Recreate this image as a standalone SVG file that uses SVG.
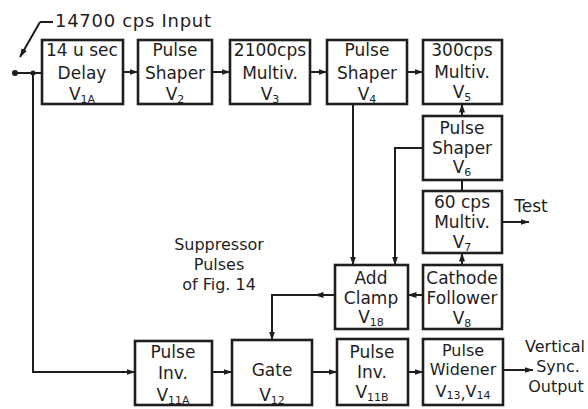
<svg xmlns="http://www.w3.org/2000/svg" width="588" height="409" viewBox="0 0 588 409">
<style>
.box{fill:none;stroke:#1e1e1e;stroke-width:2.6}
.ln{fill:none;stroke:#1e1e1e;stroke-width:2}
text{font-family:"DejaVu Sans","Liberation Sans",sans-serif;font-size:17px;fill:#1e1e1e;text-anchor:middle}
.sm{font-size:16px}
.s{font-size:11px}
</style>
<defs>
<marker id="a" markerWidth="9" markerHeight="7" refX="8.5" refY="3.5" orient="auto" markerUnits="userSpaceOnUse"><path d="M0,0.5 L9,3.5 L0,6.5 z" fill="#1e1e1e"/></marker>
</defs>
<rect width="588" height="409" fill="#ffffff"/>

<g id="connectors">
<line class="ln" x1="53" y1="22" x2="40" y2="22"/>
<line class="ln" x1="40" y1="22" x2="20" y2="57" marker-end="url(#a)"/>
<circle cx="15" cy="73" r="3" fill="#1e1e1e"/>
<circle cx="33" cy="73" r="2.5" fill="#1e1e1e"/>
<line class="ln" x1="15" y1="73" x2="42" y2="73"/>
<path class="ln" d="M33,73 V372 H135" marker-end="url(#a)"/>
<line class="ln" x1="123" y1="72" x2="138" y2="72" marker-end="url(#a)"/>
<line class="ln" x1="212" y1="72" x2="230" y2="72" marker-end="url(#a)"/>
<line class="ln" x1="310" y1="72" x2="327" y2="72" marker-end="url(#a)"/>
<line class="ln" x1="407" y1="72" x2="423" y2="72" marker-end="url(#a)"/>
<line class="ln" x1="462" y1="116" x2="462" y2="104" marker-end="url(#a)"/>
<line class="ln" x1="462" y1="180" x2="462" y2="191"/>
<line class="ln" x1="462" y1="265" x2="462" y2="253" marker-end="url(#a)"/>
<line class="ln" x1="502" y1="222" x2="529" y2="222" marker-end="url(#a)"/>
<line class="ln" x1="353" y1="104" x2="353" y2="265" marker-end="url(#a)"/>
<path class="ln" d="M423,148 H395 V265" marker-end="url(#a)"/>
<line class="ln" x1="423" y1="295" x2="408" y2="295" marker-end="url(#a)"/>
<line class="ln" x1="335" y1="295" x2="315" y2="295" marker-end="url(#a)"/>
<path class="ln" d="M316,295 H272 V340" marker-end="url(#a)"/>
<line class="ln" x1="212" y1="372" x2="232" y2="372" marker-end="url(#a)"/>
<line class="ln" x1="312" y1="372" x2="337" y2="372" marker-end="url(#a)"/>
<line class="ln" x1="408" y1="372" x2="423" y2="372" marker-end="url(#a)"/>
<line class="ln" x1="503" y1="370" x2="533" y2="370" marker-end="url(#a)"/>
</g>

<g id="input-label"><text x="133" y="27" style="font-size:18px" textLength="156">14700 cps Input</text></g>

<g id="delay"><rect class="box" x="42" y="40" width="81" height="64"/>
<text x="82" y="56">14 u sec</text><text x="82" y="79">Delay</text><text x="82" y="100">V<tspan class="s" dy="3">1A</tspan></text></g>

<g id="shaper2"><rect class="box" x="138" y="40" width="74" height="64"/>
<text x="175" y="56">Pulse</text><text x="175" y="79">Shaper</text><text x="175" y="100">V<tspan class="s" dy="3">2</tspan></text></g>

<g id="multiv3"><rect class="box" x="230" y="40" width="80" height="64"/>
<text x="270" y="56">2100cps</text><text x="270" y="79">Multiv.</text><text x="270" y="100">V<tspan class="s" dy="3">3</tspan></text></g>

<g id="shaper4"><rect class="box" x="327" y="40" width="80" height="64"/>
<text x="367" y="56">Pulse</text><text x="367" y="79">Shaper</text><text x="367" y="100">V<tspan class="s" dy="3">4</tspan></text></g>

<g id="multiv5"><rect class="box" x="423" y="40" width="79" height="64"/>
<text x="462" y="56">300cps</text><text x="462" y="78">Multiv.</text><text x="462" y="98">V<tspan class="s" dy="3">5</tspan></text></g>

<g id="shaper6"><rect class="box" x="423" y="116" width="79" height="64"/>
<text x="462" y="134">Pulse</text><text x="462" y="154">Shaper</text><text x="462" y="173">V<tspan class="s" dy="3">6</tspan></text></g>

<g id="multiv7"><rect class="box" x="423" y="191" width="79" height="62"/>
<text x="462" y="208">60 cps</text><text x="462" y="228">Multiv.</text><text x="462" y="248">V<tspan class="s" dy="3">7</tspan></text></g>

<g id="test-label"><text x="531" y="212">Test</text></g>

<g id="cathode"><rect class="box" x="423" y="265" width="79" height="64"/>
<text x="462" y="284">Cathode</text><text x="462" y="304">Follower</text><text x="462" y="324">V<tspan class="s" dy="3">8</tspan></text></g>

<g id="addclamp"><rect class="box" x="335" y="265" width="73" height="64"/>
<text x="371" y="284">Add</text><text x="371" y="304">Clamp</text><text x="371" y="323">V<tspan class="s" dy="3">18</tspan></text></g>

<g id="suppressor-label"><text class="sm" x="219" y="250">Suppressor</text><text class="sm" x="219" y="270">Pulses</text><text class="sm" x="219" y="290">of Fig. 14</text></g>

<g id="inv11a"><rect class="box" x="135" y="341" width="77" height="64"/>
<text x="173" y="358">Pulse</text><text x="173" y="379">Inv.</text><text x="173" y="401">V<tspan class="s" dy="3">11A</tspan></text></g>

<g id="gate"><rect class="box" x="232" y="340" width="80" height="65"/>
<text x="272" y="376">Gate</text><text x="272" y="401">V<tspan class="s" dy="3">12</tspan></text></g>

<g id="inv11b"><rect class="box" x="337" y="339" width="71" height="66"/>
<text x="372" y="358">Pulse</text><text x="372" y="378">Inv.</text><text x="372" y="398">V<tspan class="s" dy="3">11B</tspan></text></g>

<g id="widener"><rect class="box" x="423" y="339" width="80" height="66"/>
<text class="sm" x="463" y="356">Pulse</text><text class="sm" x="463" y="375">Widener</text><text class="sm" x="463" y="397">V<tspan class="s" dy="2">13</tspan>,<tspan dy="-2">V</tspan><tspan class="s" dy="2">14</tspan></text></g>

<g id="output-label"><text class="sm" x="555" y="352">Vertical</text><text class="sm" x="558" y="372">Sync.</text><text class="sm" x="556" y="392">Output</text></g>
</svg>
